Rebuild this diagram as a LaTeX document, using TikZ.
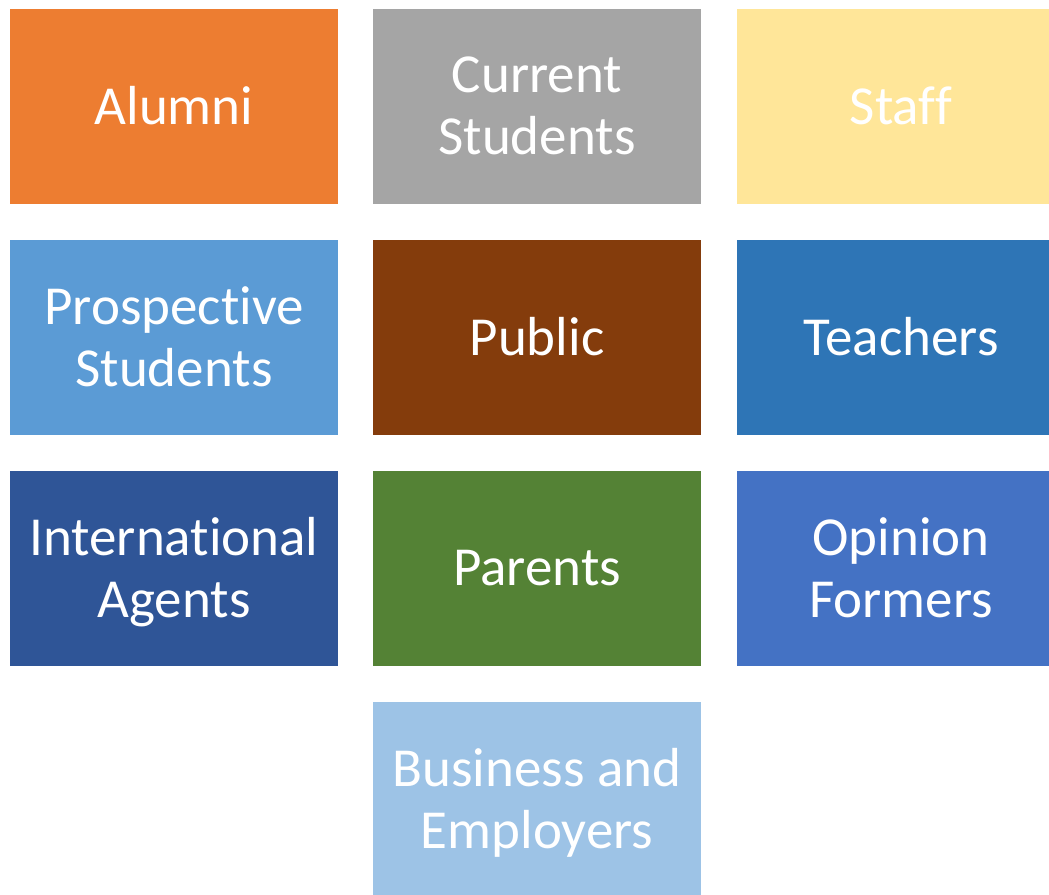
\documentclass[tikz,border=0pt]{standalone}
\usepackage{fontspec}
\setmainfont{Carlito}[Ligatures=NoCommon]
\definecolor{cOrange}{HTML}{ED7D31}
\definecolor{cGray}{HTML}{A5A5A5}
\definecolor{cGold}{HTML}{FFE699}
\definecolor{cSky}{HTML}{5B9BD5}
\definecolor{cBrown}{HTML}{843C0C}
\definecolor{cBlue}{HTML}{2E75B6}
\definecolor{cNavy}{HTML}{2F5597}
\definecolor{cGreen}{HTML}{548235}
\definecolor{cRoyal}{HTML}{4472C4}
\definecolor{cPale}{HTML}{9DC3E6}
\begin{document}
\begin{tikzpicture}[x=1pt,y=-1pt,
  tile/.style={rectangle, minimum width=328pt, minimum height=195pt,
    inner sep=0pt, text=white, align=center, text depth=2pt,
    font=\fontsize{55}{62}\selectfont}]
\useasboundingbox (0,0) rectangle (1049,894);
\clip (0,0) rectangle (1049,894);
\fill[white] (0,0) rectangle (1049,894);
% row 1
\node[tile, fill=cOrange] (alumni)  at (174,106.5) {Alumni};
\node[tile, fill=cGray]   (current) at (537,106.5) {Current\\Students};
\node[tile, fill=cGold]   (staff)   at (901,106.5) {Staff};
% row 2
\node[tile, fill=cSky]    (prosp)   at (174,337.5) {Prospective\\Students};
\node[tile, fill=cBrown]  (public)  at (537,337.5) {Public};
\node[tile, fill=cBlue]   (teach)   at (901,337.5) {Teachers};
% row 3
\node[tile, fill=cNavy]   (intl)    at (174,568.5) {International\\Agents};
\node[tile, fill=cGreen]  (parents) at (537,568.5) {Parents};
\node[tile, fill=cRoyal]  (opinion) at (901,568.5) {Opinion\\Formers};
% row 4
\node[tile, fill=cPale]   (biz)     at (537,799.5) {Business and\\Employers};
\end{tikzpicture}
\end{document}
